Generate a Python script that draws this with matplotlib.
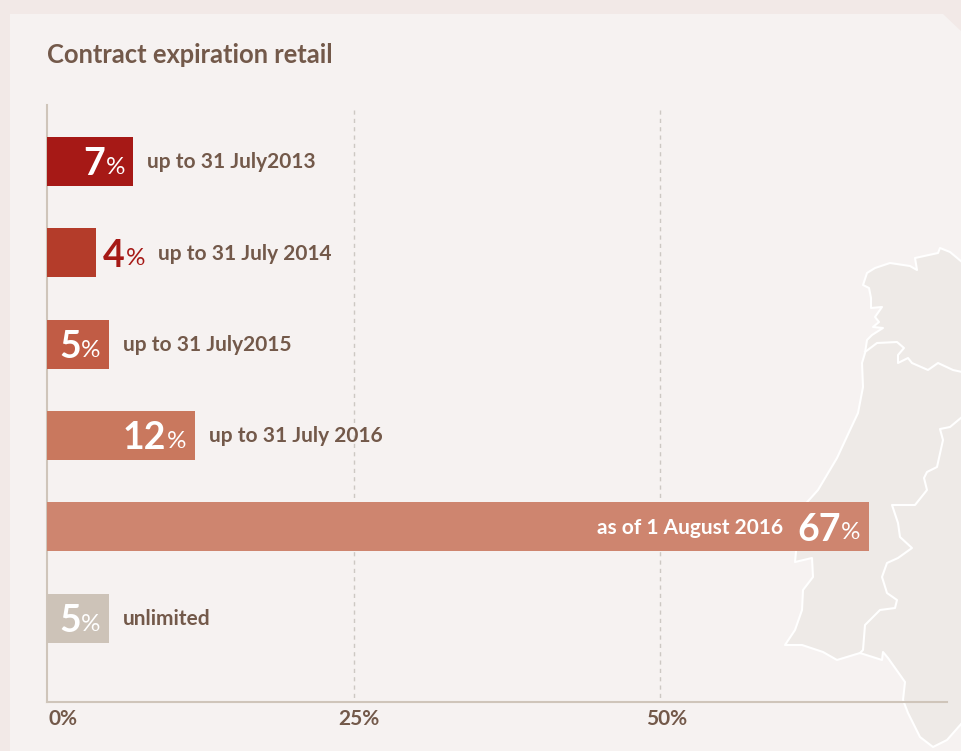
# Contract expiration retail: horizontal bars over a pale map of the Iberian west coast

import matplotlib
matplotlib.use("Agg")
import matplotlib.pyplot as plt
from matplotlib.patches import Polygon
from matplotlib.transforms import ScaledTranslation

plt.rcParams["font.family"] = ["Lato", "DejaVu Sans"]

# -------------------- Data --------------------
periods = ["up to 31 July2013", "up to 31 July 2014", "up to 31 July2015",
           "up to 31 July 2016", "as of 1 August 2016", "unlimited"]
shares = [7, 4, 5, 12, 67, 5]
bar_colors = ["#a61916", "#b43c2a", "#c15c45", "#c9785e", "#ce856f", "#cdc3b8"]
number_colors = ["white", "#a61916", "white", "white", "white", "white"]
percent_colors = ["white", "#a61916", "white", "white", "white", "white"]
tick_values = [0, 25, 50]
tick_labels = ["0%", "25%", "50%"]
tick_shift = [16, 5, 6]   # px, labels sit right of their gridline
gridlines = [25, 50]

# -------------------- Colours --------------------
COL_OUTER = "#f2e9e7"
COL_PANEL = "#f6f2f1"
COL_LAND = "#eeeae7"
COL_AXIS = "#cfc5ba"
COL_GRID = "#cdc8c3"
COL_TEXT = "#73594a"

# -------------------- Background shapes (pixel coordinates) --------------------
panel_outline = [(10, 14), (943, 14), (962, 32), (962, 751), (10, 751)]

land_outline = [
    (962, 262), (950, 252), (940, 248), (938, 253), (915, 258), (917, 270), (910, 266),
    (890, 263), (875, 268), (867, 273), (863, 285), (869, 288), (871, 298), (871, 308),
    (882, 307), (875, 317), (879, 322), (873, 327), (883, 328), (872, 335), (867, 340),
    (865, 353), (862, 363), (863, 387), (858, 413), (850, 430), (837, 458), (818, 490),
    (800, 510), (795, 562), (812, 558), (813, 577), (803, 590), (802, 610), (795, 630),
    (785, 645), (802, 645), (823, 652), (837, 660), (860, 653), (882, 660), (883, 652),
    (888, 658), (905, 682), (903, 700), (908, 713), (920, 737), (933, 747), (947, 740),
    (962, 723), (962, 751), (962, 262),
]
north_border = [
    (865, 352), (877, 343), (897, 342), (904, 348), (898, 355), (898, 363), (908, 358),
    (912, 363), (928, 370), (938, 363), (953, 370), (962, 372),
]
east_border = [
    (962, 417), (950, 427), (940, 429), (943, 440), (937, 467), (927, 472), (924, 478),
    (927, 490), (915, 505), (892, 505), (898, 523), (900, 537), (912, 548), (898, 558),
    (887, 563), (882, 577), (887, 593), (897, 600), (895, 608), (880, 610), (865, 625),
    (863, 650), (860, 653),
]

# -------------------- Figure --------------------
W, H = 962, 751
fig = plt.figure(figsize=(W / 100, H / 100), dpi=100, facecolor=COL_OUTER)

bg = fig.add_axes([0, 0, 1, 1], zorder=0)
bg.set_xlim(0, W)
bg.set_ylim(H, 0)
bg.axis("off")
bg.add_patch(Polygon(panel_outline, closed=True, fc=COL_PANEL, ec="none"))
bg.add_patch(Polygon(land_outline, closed=True, fc=COL_LAND, ec="white", lw=1.5, joinstyle="round"))
for border in (north_border, east_border):
    bg.plot(*zip(*border), color="white", lw=1.5, solid_joinstyle="round")

bg.text(47, 55, "Contract expiration retail", fontsize=18.4, fontweight="bold",
        color=COL_TEXT, va="center", ha="left")

# Main axes: 0 at x=47, 12.26 px per percentage point
ax = fig.add_axes([47.4 / W, 1 - 702 / H, 900 / W, 597 / H], zorder=1)
ax.patch.set_alpha(0)
ax.set_xlim(0, 900 / 12.26)
ax.set_ylim(5.916, -0.616)

ypos = list(range(len(shares)))
ax.barh(ypos, shares, height=0.536, color=bar_colors, zorder=3)
ax.vlines(gridlines, -0.56, 5.916, color=COL_GRID, lw=1, linestyles=(0, (3, 3)), zorder=1)

# Value labels: big number plus thin percent sign, anchored on the bar end
for i, (val, col_n, col_p) in enumerate(zip(shares, number_colors, percent_colors)):
    outside = val == 4
    num_dx = 28 if outside else -28
    pct_dx = 49 if outside else -8
    ax.annotate(str(val), (val, i), xytext=(num_dx, -3), textcoords="offset pixels",
                ha="right", va="center", fontsize=27, fontweight="bold", color=col_n, zorder=4)
    ax.annotate("%", (val, i), xytext=(pct_dx, -6), textcoords="offset pixels",
                ha="right", va="center", fontsize=17.5, fontweight="normal", color=col_p, zorder=4)

# Period labels: right of the bar, or inside it for the long one
for i, (val, name) in enumerate(zip(shares, periods)):
    if val > 50:
        ax.annotate(name, (val, i), xytext=(-86, -1), textcoords="offset pixels", ha="right",
                    va="center", fontsize=15, fontweight="bold", color="white", zorder=4)
    else:
        dx = 62 if val == 4 else 14
        ax.annotate(name, (val, i), xytext=(dx, -1), textcoords="offset pixels", ha="left",
                    va="center", fontsize=15, fontweight="bold", color=COL_TEXT, zorder=4)

for side in ("top", "right"):
    ax.spines[side].set_visible(False)
for side in ("left", "bottom"):
    ax.spines[side].set_color(COL_AXIS)
    ax.spines[side].set_linewidth(1.5)

ax.set_yticks([])
ax.set_xticks(tick_values, tick_labels, fontsize=15, fontweight="bold", color=COL_TEXT)
ax.tick_params(axis="x", length=0, pad=5)
for lab, dx in zip(ax.get_xticklabels(), tick_shift):
    lab.set_transform(lab.get_transform() + ScaledTranslation(dx / 100, 0, fig.dpi_scale_trans))

fig.savefig("out.png", dpi=100, facecolor=COL_OUTER)
